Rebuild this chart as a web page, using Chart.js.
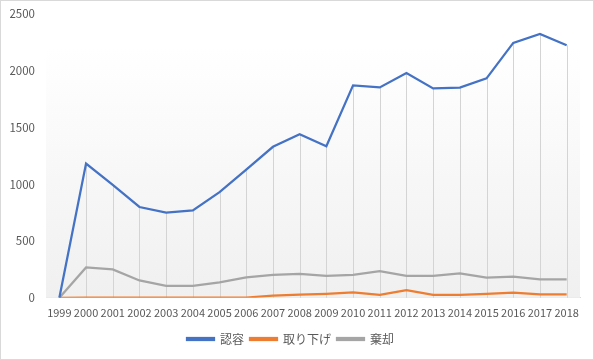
<!DOCTYPE html>
<html>
<head>
<meta charset="utf-8">
<script src="https://cdn.jsdelivr.net/npm/chart.js@4/dist/chart.umd.min.js"></script>
<style>
html,body{margin:0;padding:0;background:#fff;}
#wrap{position:absolute;left:0;top:0;width:592px;height:358px;border:1px solid #d9d9d9;background:#fff;}
canvas{display:block;}
</style>
</head>
<body>
<div id="wrap"><canvas id="c" width="592" height="358"></canvas></div>
<script>
const years = ['1999','2000','2001','2002','2003','2004','2005','2006','2007','2008','2009','2010','2011','2012','2013','2014','2015','2016','2017','2018'];
const ninyo = [0,1183,995,800,750,770,930,1130,1330,1441,1335,1871,1853,1980,1845,1851,1933,2245,2324,2224];
const torisage = [0,2,2,2,2,2,2,2,20,28,35,47,26,68,26,26,35,45,30,30];
const kikyaku = [0,267,250,153,106,106,135,180,203,210,194,203,235,194,194,215,177,186,162,162];
const seriesNames = ['認容','取り下げ','棄却'];
const yTicks = [0,500,1000,1500,2000,2500];

const FONT = "'Noto Sans CJK JP','Noto Sans',sans-serif";

const bgPlugin = {
  id:'bg',
  beforeDatasetsDraw(chart){
    const {ctx, chartArea:a, scales} = chart;
    ctx.save();
    const g = ctx.createLinearGradient(0,a.top,0,a.bottom);
    g.addColorStop(0,'#ffffff');
    g.addColorStop(0.12,'#ffffff');
    g.addColorStop(1,'#f0f0f0');
    ctx.fillStyle = g;
    ctx.fillRect(a.left,a.top,a.right-a.left,a.bottom-a.top);
    ctx.strokeStyle = '#d4d4d4';
    ctx.lineWidth = 1;
    const n = chart.data.labels.length;
    for(let i=0;i<n;i++){
      let m = 0;
      chart.data.datasets.forEach(ds=>{ if(ds.data[i]>m) m = ds.data[i]; });
      if(m<=0) continue;
      const x = Math.round(scales.x.getPixelForValue(i))+0.5;
      ctx.beginPath();
      ctx.moveTo(x, scales.y.getPixelForValue(m));
      ctx.lineTo(x, scales.y.getPixelForValue(0));
      ctx.stroke();
    }
    ctx.restore();
  }
};

new Chart(document.getElementById('c'), {
  type:'line',
  data:{
    labels: years,
    datasets:[
      {label:seriesNames[0], data:ninyo, borderColor:'#4472c4', backgroundColor:'#4472c4', borderWidth:2.25, pointRadius:0, tension:0},
      {label:seriesNames[1], data:torisage, borderColor:'#ed7d31', backgroundColor:'#ed7d31', borderWidth:2.25, pointRadius:0, tension:0},
      {label:seriesNames[2], data:kikyaku, borderColor:'#a5a5a5', backgroundColor:'#a5a5a5', borderWidth:2.25, pointRadius:0, tension:0}
    ]
  },
  options:{
    responsive:false,
    animation:false,
    layout:{padding:{left:0,right:13,top:13,bottom:4}},
    plugins:{
      legend:{
        position:'bottom',
        labels:{boxWidth:27,boxHeight:2,color:'#595959',font:{family:FONT,size:12},padding:6}
      },
      tooltip:{enabled:false}
    },
    scales:{
      x:{
        offset:true,
        grid:{display:false, drawTicks:false},
        border:{display:true,color:'#d9d9d9',width:1},
        ticks:{color:'#595959',font:{family:FONT,size:11},autoSkip:false,maxRotation:0,minRotation:0,padding:8}
      },
      y:{
        min:0,max:2500,
        afterBuildTicks(s){ s.ticks = yTicks.map(v=>({value:v})); },
        afterFit(s){ s.width = 45; s.paddingTop = 0; s.paddingBottom = 0; },
        grid:{display:false, drawTicks:false},
        border:{display:false},
        ticks:{color:'#595959',font:{family:FONT,size:11.5},padding:11,callback:(v)=>String(v)}
      }
    }
  },
  plugins:[bgPlugin]
});
</script>
</body>
</html>
